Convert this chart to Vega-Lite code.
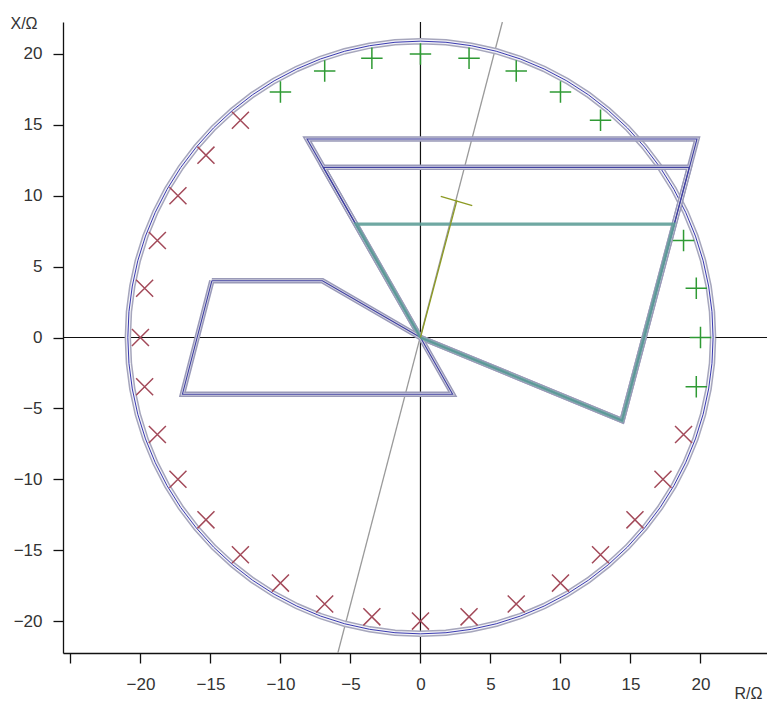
{
  "$schema": "https://vega.github.io/schema/vega-lite/v6.json",
  "width": 704,
  "height": 631,
  "autosize": {"type": "none"},
  "padding": {"left": 63, "top": 22, "right": 0, "bottom": 49},
  "background": "white",
  "config": {
    "view": {"stroke": null},
    "font": "Liberation Sans",
    "axis": {"grid": false, "domainColor": "#111", "tickColor": "#111", "tickSize": 10, "domainWidth": 1.3, "tickWidth": 1.3, "labelFont": "Liberation Sans", "labelFontSize": 17, "labelColor": "#333", "titleFont": "Liberation Sans", "titleFontSize": 16, "titleFontWeight": "normal", "titleColor": "#333"}
  },
  "datasets": {
    "circle": [
      {"i": 0, "R": 20.9, "X": 0}, {"i": 5, "R": 20.82, "X": 1.82}, {"i": 10, "R": 20.58, "X": 3.63}, {"i": 15, "R": 20.19, "X": 5.41}, {"i": 20, "R": 19.64, "X": 7.15}, {"i": 25, "R": 18.94, "X": 8.83}, {"i": 30, "R": 18.1, "X": 10.45}, {"i": 35, "R": 17.12, "X": 11.99}, {"i": 40, "R": 16.01, "X": 13.43}, {"i": 45, "R": 14.78, "X": 14.78}, {"i": 50, "R": 13.43, "X": 16.01}, {"i": 55, "R": 11.99, "X": 17.12}, {"i": 60, "R": 10.45, "X": 18.1}, {"i": 65, "R": 8.83, "X": 18.94}, {"i": 70, "R": 7.15, "X": 19.64}, {"i": 75, "R": 5.41, "X": 20.19}, {"i": 80, "R": 3.63, "X": 20.58}, {"i": 85, "R": 1.82, "X": 20.82}, {"i": 90, "R": 0, "X": 20.9},
      {"i": 95, "R": -1.82, "X": 20.82}, {"i": 100, "R": -3.63, "X": 20.58}, {"i": 105, "R": -5.41, "X": 20.19}, {"i": 110, "R": -7.15, "X": 19.64}, {"i": 115, "R": -8.83, "X": 18.94}, {"i": 120, "R": -10.45, "X": 18.1}, {"i": 125, "R": -11.99, "X": 17.12}, {"i": 130, "R": -13.43, "X": 16.01}, {"i": 135, "R": -14.78, "X": 14.78}, {"i": 140, "R": -16.01, "X": 13.43}, {"i": 145, "R": -17.12, "X": 11.99}, {"i": 150, "R": -18.1, "X": 10.45}, {"i": 155, "R": -18.94, "X": 8.83}, {"i": 160, "R": -19.64, "X": 7.15}, {"i": 165, "R": -20.19, "X": 5.41}, {"i": 170, "R": -20.58, "X": 3.63}, {"i": 175, "R": -20.82, "X": 1.82}, {"i": 180, "R": -20.9, "X": 0},
      {"i": 185, "R": -20.82, "X": -1.82}, {"i": 190, "R": -20.58, "X": -3.63}, {"i": 195, "R": -20.19, "X": -5.41}, {"i": 200, "R": -19.64, "X": -7.15}, {"i": 205, "R": -18.94, "X": -8.83}, {"i": 210, "R": -18.1, "X": -10.45}, {"i": 215, "R": -17.12, "X": -11.99}, {"i": 220, "R": -16.01, "X": -13.43}, {"i": 225, "R": -14.78, "X": -14.78}, {"i": 230, "R": -13.43, "X": -16.01}, {"i": 235, "R": -11.99, "X": -17.12}, {"i": 240, "R": -10.45, "X": -18.1}, {"i": 245, "R": -8.83, "X": -18.94}, {"i": 250, "R": -7.15, "X": -19.64}, {"i": 255, "R": -5.41, "X": -20.19}, {"i": 260, "R": -3.63, "X": -20.58}, {"i": 265, "R": -1.82, "X": -20.82}, {"i": 270, "R": 0, "X": -20.9},
      {"i": 275, "R": 1.82, "X": -20.82}, {"i": 280, "R": 3.63, "X": -20.58}, {"i": 285, "R": 5.41, "X": -20.19}, {"i": 290, "R": 7.15, "X": -19.64}, {"i": 295, "R": 8.83, "X": -18.94}, {"i": 300, "R": 10.45, "X": -18.1}, {"i": 305, "R": 11.99, "X": -17.12}, {"i": 310, "R": 13.43, "X": -16.01}, {"i": 315, "R": 14.78, "X": -14.78}, {"i": 320, "R": 16.01, "X": -13.43}, {"i": 325, "R": 17.12, "X": -11.99}, {"i": 330, "R": 18.1, "X": -10.45}, {"i": 335, "R": 18.94, "X": -8.83}, {"i": 340, "R": 19.64, "X": -7.15}, {"i": 345, "R": 20.19, "X": -5.41}, {"i": 350, "R": 20.58, "X": -3.63}, {"i": 355, "R": 20.82, "X": -1.82}, {"i": 360, "R": 20.9, "X": 0}
    ],
    "axesLines": [
      {"id": "h", "i": 0, "R": -25.53, "X": 0}, {"id": "h", "i": 1, "R": 24.75, "X": 0},
      {"id": "v", "i": 0, "R": 0, "X": -22.25}, {"id": "v", "i": 1, "R": 0, "X": 22.25}
    ],
    "zones": [
      {"id": "z1", "i": 0, "R": 0, "X": 0}, {"id": "z1", "i": 1, "R": -8.1, "X": 14}, {"id": "z1", "i": 2, "R": 19.75, "X": 14}, {"id": "z1", "i": 3, "R": 14.4, "X": -5.85}, {"id": "z1", "i": 4, "R": 0, "X": 0},
      {"id": "z2", "i": 0, "R": 0, "X": 0}, {"id": "z2", "i": 1, "R": -6.94, "X": 12}, {"id": "z2", "i": 2, "R": 19.2, "X": 12}, {"id": "z2", "i": 3, "R": 14.4, "X": -5.85}, {"id": "z2", "i": 4, "R": 0, "X": 0},
      {"id": "z4", "i": 0, "R": -14.9, "X": 4}, {"id": "z4", "i": 1, "R": -7, "X": 4}, {"id": "z4", "i": 2, "R": 0, "X": 0}, {"id": "z4", "i": 3, "R": 2.3, "X": -4}, {"id": "z4", "i": 4, "R": -17, "X": -4}, {"id": "z4", "i": 5, "R": -14.9, "X": 4}
    ],
    "teal": [
      {"id": "z3", "i": 0, "R": 0, "X": 0}, {"id": "z3", "i": 1, "R": -4.6, "X": 8}, {"id": "z3", "i": 2, "R": 18.1, "X": 8}, {"id": "z3", "i": 3, "R": 14.4, "X": -5.85}, {"id": "z3", "i": 4, "R": 0, "X": 0}
    ],
    "grayLine": [
      {"id": "g", "i": 0, "R": -5.9, "X": -22.25}, {"id": "g", "i": 1, "R": 5.85, "X": 22.25}
    ],
    "olive": [
      {"id": "o1", "i": 0, "R": 0, "X": 0}, {"id": "o1", "i": 1, "R": 2.6, "X": 9.65},
      {"id": "o2", "i": 0, "R": 1.45, "X": 9.95}, {"id": "o2", "i": 1, "R": 3.7, "X": 9.3}
    ],
    "plus": [
      {"R": 19.7, "X": -3.47}, {"R": 20, "X": 0}, {"R": 19.7, "X": 3.47}, {"R": 18.79, "X": 6.84}, {"R": 12.86, "X": 15.32}, {"R": 10, "X": 17.32}, {"R": 6.84, "X": 18.79}, {"R": 3.47, "X": 19.7}, {"R": 0, "X": 20}, {"R": -3.47, "X": 19.7}, {"R": -6.84, "X": 18.79}, {"R": -10, "X": 17.32}
    ],
    "cross": [
      {"R": -12.86, "X": 15.32}, {"R": -15.32, "X": 12.86}, {"R": -17.32, "X": 10}, {"R": -18.79, "X": 6.84}, {"R": -19.7, "X": 3.47}, {"R": -20, "X": 0}, {"R": -19.7, "X": -3.47}, {"R": -18.79, "X": -6.84}, {"R": -17.32, "X": -10}, {"R": -15.32, "X": -12.86}, {"R": -12.86, "X": -15.32}, {"R": -10, "X": -17.32}, {"R": -6.84, "X": -18.79}, {"R": -3.47, "X": -19.7}, {"R": 0, "X": -20}, {"R": 3.47, "X": -19.7}, {"R": 6.84, "X": -18.79}, {"R": 10, "X": -17.32}, {"R": 12.86, "X": -15.32}, {"R": 15.32, "X": -12.86}, {"R": 17.32, "X": -10}, {"R": 18.79, "X": -6.84}
    ]
  },
  "encoding": {
    "x": {"field": "R", "type": "quantitative", "scale": {"domain": [-25.53, 24.75], "nice": false, "zero": false},
      "axis": {"values": [-25, -20, -15, -10, -5, 0, 5, 10, 15, 20], "labelExpr": "datum.value == -25 ? '' : datum.label", "labelPadding": 13, "title": "R/Ω", "titleAngle": 0, "titleX": 671, "titleY": 48, "titleAlign": "left", "titleBaseline": "bottom", "labelFlush": false, "labelOverlap": false}},
    "y": {"field": "X", "type": "quantitative", "scale": {"domain": [-22.25, 22.25], "nice": false, "zero": false},
      "axis": {"values": [-20, -15, -10, -5, 0, 5, 10, 15, 20], "labelPadding": 11, "title": "X/Ω", "titleAngle": 0, "titleX": -53, "titleY": 1, "titleAlign": "left", "titleBaseline": "middle", "labelFlush": false, "labelOverlap": false}}
  },
  "layer": [
    {"data": {"name": "axesLines"}, "mark": {"type": "line", "color": "#111", "strokeWidth": 1.2, "clip": true}, "encoding": {"detail": {"field": "id"}, "order": {"field": "i", "type": "quantitative"}}},
    {"data": {"name": "grayLine"}, "mark": {"type": "line", "color": "#9a9a9a", "strokeWidth": 1.3, "clip": true}, "encoding": {"detail": {"field": "id"}, "order": {"field": "i", "type": "quantitative"}}},
    {"data": {"name": "circle"}, "mark": {"type": "line", "color": "#a6a6bc", "strokeWidth": 6.5}, "encoding": {"order": {"field": "i", "type": "quantitative"}}},
    {"data": {"name": "circle"}, "mark": {"type": "line", "color": "#f4f4f8", "strokeWidth": 3.5}, "encoding": {"order": {"field": "i", "type": "quantitative"}}},
    {"data": {"name": "circle"}, "mark": {"type": "line", "color": "#3a3ab0", "strokeWidth": 1}, "encoding": {"order": {"field": "i", "type": "quantitative"}}},
    {"data": {"name": "zones"}, "mark": {"type": "line", "color": "#9a9ab8", "strokeWidth": 5.5, "strokeJoin": "miter"}, "encoding": {"detail": {"field": "id"}, "order": {"field": "i", "type": "quantitative"}}},
    {"data": {"name": "zones"}, "mark": {"type": "line", "color": "#dcdce8", "strokeWidth": 2.6, "strokeJoin": "miter"}, "encoding": {"detail": {"field": "id"}, "order": {"field": "i", "type": "quantitative"}}},
    {"data": {"name": "zones"}, "mark": {"type": "line", "color": "#4040a0", "strokeWidth": 1.1, "strokeJoin": "miter"}, "encoding": {"detail": {"field": "id"}, "order": {"field": "i", "type": "quantitative"}}},
    {"data": {"name": "teal"}, "mark": {"type": "line", "color": "#5f9f98", "strokeWidth": 3.2, "opacity": 0.9, "strokeJoin": "miter"}, "encoding": {"detail": {"field": "id"}, "order": {"field": "i", "type": "quantitative"}}},
    {"data": {"name": "olive"}, "mark": {"type": "line", "color": "#8c9a22", "strokeWidth": 1.3}, "encoding": {"detail": {"field": "id"}, "order": {"field": "i", "type": "quantitative"}}},
    {"data": {"name": "plus"}, "mark": {"type": "point", "shape": "M -1 0 L 1 0 M 0 -1 L 0 1", "size": 460, "filled": false, "color": "#2f9a34", "strokeWidth": 1.5, "opacity": 1}},
    {"data": {"name": "cross"}, "mark": {"type": "point", "shape": "M -1 -1 L 1 1 M -1 1 L 1 -1", "size": 290, "filled": false, "color": "#a34a5a", "strokeWidth": 1.5, "opacity": 1}}
  ]
}
